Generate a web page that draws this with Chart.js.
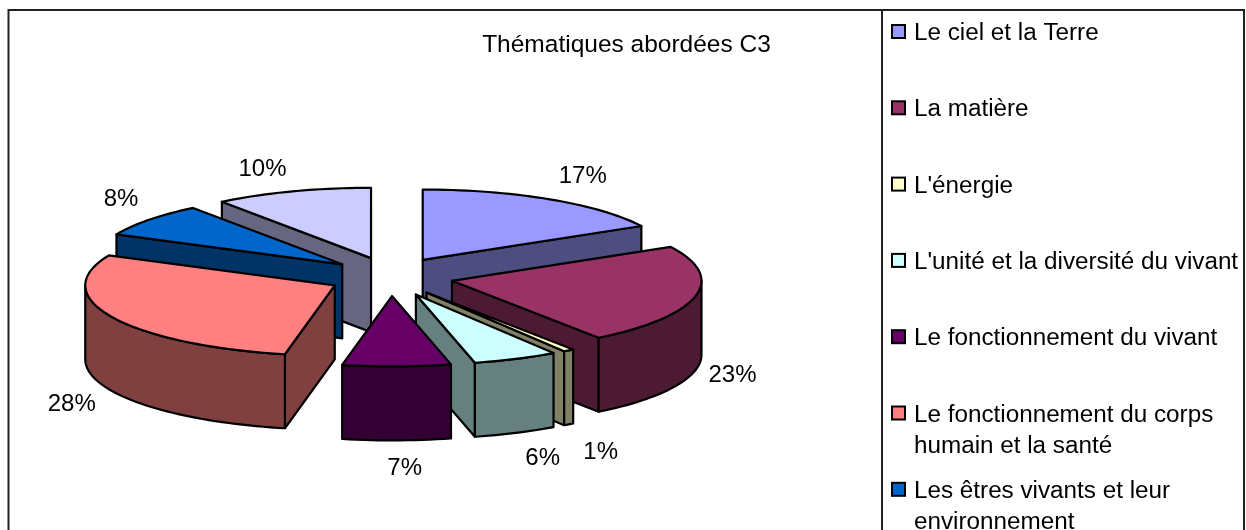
<!DOCTYPE html>
<html><head><meta charset="utf-8">
<style>html,body{margin:0;padding:0;background:#fff}canvas{display:block}</style>
<script src="https://cdn.jsdelivr.net/npm/chart.js@4/dist/chart.umd.min.js"></script>
</head><body>
<canvas id="c" width="1246" height="530"></canvas>
<script>
const titleText = "Thématiques abordées C3";
const categories = [
  "Le ciel et la Terre",
  "La matière",
  "L'énergie",
  "L'unité et la diversité du vivant",
  "Le fonctionnement du vivant",
  ["Le fonctionnement du corps", "humain et la santé"],
  ["Les êtres vivants et leur", "environnement"],
  ""
];
const values = [17, 23, 0.7, 5.5, 7, 28.8, 7.8, 10.2];
const percentLabels = ["17%", "23%", "1%", "6%", "7%", "28%", "8%", "10%"];
const topColors = ["#9999FF", "#993366", "#FFFFCC", "#CCFFFF", "#660066", "#FF8080", "#0066CC", "#CCCCFF"];
const sideColors = ["#4D4D80", "#4D1A33", "#808066", "#668080", "#330033", "#804040", "#003366", "#666680"];
const labelNudges = [[33,-25],[37,77],[32,100],[27,97],[8,100],[-40,85],[-28,-23],[-30,-24]];

const FONT = '24px "Liberation Sans", Arial, sans-serif';
const TITLE_FONT = '24.5px "Liberation Sans", Arial, sans-serif';
const LEGEND_FONT = '24.25px "Liberation Sans", Arial, sans-serif';
const RADIUS = 249.5, TILT = 0.282, OFFSET_TILT = 0.31, EXPLODE = 62.7, DEPTH = 74;

function geom(arc){
  const p = arc.getProps(['x','y','startAngle','endAngle','outerRadius'], true);
  const mid = (p.startAngle + p.endAngle)/2;
  const off = arc.options.offset;
  const ax = p.x + off*Math.cos(mid);
  const ay = p.y + off*OFFSET_TILT*Math.sin(mid);
  const pt = a => [ax + p.outerRadius*Math.cos(a), ay + p.outerRadius*TILT*Math.sin(a)];
  return {ax, ay, pt, mid, a0:p.startAngle, a1:p.endAngle, r:p.outerRadius};
}
function rimPts(g, a0, a1){
  const n = Math.max(2, Math.ceil((a1-a0)/0.03));
  const out = [];
  for(let i=0;i<=n;i++) out.push(g.pt(a0+(a1-a0)*i/n));
  return out;
}
function poly(ctx, pts, fill){
  ctx.beginPath();
  pts.forEach((q,i)=> i?ctx.lineTo(q[0],q[1]):ctx.moveTo(q[0],q[1]));
  ctx.closePath();
  ctx.fillStyle = fill; ctx.fill(); ctx.stroke();
}
const pie3d = {
  id:'pie3d',
  beforeDatasetDraw(chart, args){
    const ctx = chart.ctx;
    const arcs = chart.getDatasetMeta(args.index).data;
    const order = arcs.map((a,i)=>i).sort((i,j)=> geom(arcs[i]).ay - geom(arcs[j]).ay);
    ctx.save();
    ctx.strokeStyle = '#000'; ctx.lineWidth = 2.2; ctx.lineJoin = 'round';
    order.forEach(i=>{
      const g = geom(arcs[i]), side = sideColors[i];
      const A = [g.ax,g.ay], A2 = [g.ax,g.ay+DEPTH];
      const down = q => [q[0], q[1]+DEPTH];
      const s = g.pt(g.a0), e = g.pt(g.a1);
      if(Math.sin(g.a0-Math.PI/2) > 1e-3) poly(ctx,[A,s,down(s),A2],side);
      if(Math.sin(g.a1+Math.PI/2) > 1e-3) poly(ctx,[A,e,down(e),A2],side);
      for(let k=-1;k<=1;k++){
        const lo = Math.max(g.a0, 2*Math.PI*k), hi = Math.min(g.a1, Math.PI+2*Math.PI*k);
        if(hi>lo){
          const rim = rimPts(g,lo,hi);
          poly(ctx, rim.concat(rim.slice().reverse().map(down)), side);
        }
      }
      poly(ctx,[A].concat(rimPts(g,g.a0,g.a1)), topColors[i]);
    });
    ctx.restore();
    return false;
  },
  afterDraw(chart){
    const ctx = chart.ctx;
    const arcs = chart.getDatasetMeta(0).data;
    ctx.save();
    ctx.strokeStyle = '#222'; ctx.lineWidth = 2;
    ctx.beginPath();
    ctx.moveTo(8.5,540); ctx.lineTo(8.5,10); ctx.lineTo(1244,10); ctx.lineTo(1244,540);
    ctx.moveTo(882,10); ctx.lineTo(882,540);
    ctx.stroke();
    ctx.fillStyle = '#000'; ctx.textBaseline='alphabetic'; ctx.textAlign='center';
    ctx.font = TITLE_FONT;
    ctx.fillText(titleText, 626.5, 52);
    ctx.font = FONT;
    arcs.forEach((a,i)=>{
      const g = geom(a), q = g.pt(g.mid);
      ctx.fillText(percentLabels[i], q[0]+labelNudges[i][0], q[1]+labelNudges[i][1]+9);
    });
    ctx.textAlign='left';
    ctx.font = LEGEND_FONT;
    categories.forEach((lab,i)=>{
      if(!lab) return;
      const base = 40 + 76.3*i;
      ctx.fillStyle = topColors[i]; ctx.strokeStyle='#000'; ctx.lineWidth=2;
      ctx.fillRect(892, base-15, 13, 13); ctx.strokeRect(892, base-15, 13, 13);
      ctx.fillStyle='#000';
      [].concat(lab).forEach((t,j)=> ctx.fillText(t, 914, base + j*31));
    });
    ctx.restore();
  }
};
new Chart(document.getElementById('c'), {
  type:'pie',
  data:{labels:categories.map(l=>[].concat(l).join(' ')), datasets:[{data:values, backgroundColor:topColors, borderColor:'#000', borderWidth:2, offset:EXPLODE}]},
  options:{
    responsive:false, animation:false, radius:RADIUS,
    layout:{padding:{left:11, right:475.4, top:23.2, bottom:0}},
    plugins:{legend:{display:false}, tooltip:{enabled:false}, title:{display:false}}
  },
  plugins:[pie3d]
});
</script>
</body></html>
